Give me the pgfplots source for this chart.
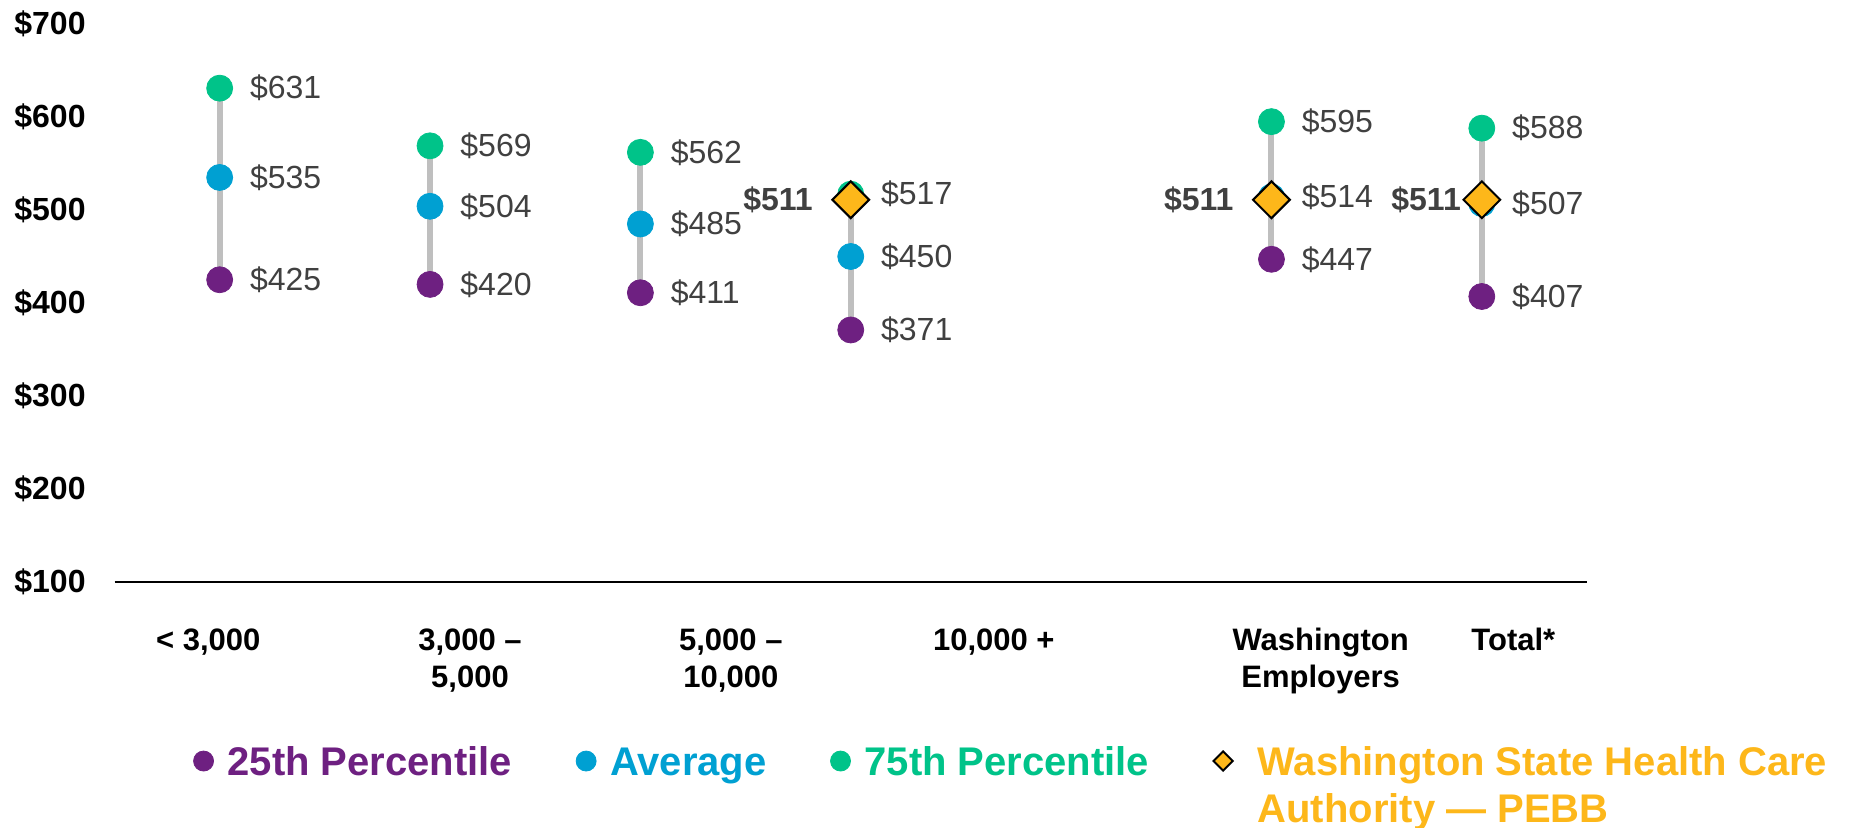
\documentclass[border=0pt]{standalone}
\usepackage{pgfplots}
\pgfplotsset{compat=1.18}
\usepackage{pgfplotstable}
\usepackage{fontspec}
\setmainfont{Liberation Sans}
\definecolor{cPurple}{HTML}{6E2081}
\definecolor{cBlue}{HTML}{00A0D2}
\definecolor{cGreen}{HTML}{00C389}
\definecolor{cYellow}{HTML}{FDB71A}
\definecolor{cGray}{HTML}{BFBFBF}
\definecolor{cText}{HTML}{404040}

\pgfplotstableread{
x p25 avg p75
0 425 535 631
1 420 504 569
2 411 485 562
3 371 450 517
5 447 514 595
6 407 507 588
}\datatable

\pgfplotstableread{
x pebb
3 511
5 511
}\pebbA
\pgfplotstableread{
x pebb
6 511
}\pebbB

\pgfplotsset{diamondlegend/.style={legend image code/.code={\draw[##1, mark size=3.4pt] plot coordinates {(0pt,7pt)}; \path (-4.8pt,7pt) (10pt,7pt);}}}

\begin{document}
\begin{tikzpicture}
\useasboundingbox (-57.25pt,-123pt) rectangle (870.25pt,291pt);
\begin{axis}[
  at={(0pt,0pt)}, anchor=south west,
  scale only axis, width=736.25pt, height=279pt,
  xmin=-0.5, xmax=6.5, ymin=100, ymax=700,
  axis x line*=bottom, axis y line*=left,
  x axis line style={-, line width=1pt, black},
  y axis line style={draw=none},
  major tick length=0pt,
  clip=false,
  /pgf/number format/assume math mode=true,
  ytick={100,200,...,700},
  yticklabels={\$100,\$200,\$300,\$400,\$500,\$600,\$700},
  yticklabel style={anchor=east, inner sep=0pt, xshift=-14.25pt, font=\fontsize{16}{19}\selectfont\bfseries},
  xtick={-0.054,1.19,2.43,3.68,5.234,6.15},
  xticklabels={{< 3,000},{3,000 –\\5,000},{5,000 –\\10,000},{10,000 +},{Washington\\Employers},{Total*}},
  xticklabel style={anchor=north, inner sep=0pt, yshift=-23pt, align=center, font=\fontsize{15.5}{18.5}\selectfont\bfseries},
  legend columns=4,
  legend style={at={(axis description cs:0.0537,-0.294)}, anchor=north west, draw=none, fill=none,
    inner sep=0pt, outer sep=0pt,
    nodes={inner sep=0pt, anchor=base west},
    font=\fontsize{20}{23.5}\selectfont\bfseries,
    /tikz/every odd column/.append style={column sep=7pt},
    /tikz/every even column/.append style={column sep=32pt}},
  legend image code/.code={\draw[#1, mark size=5pt] plot coordinates {(0pt,7pt)};},
]
% connecting lines
\addplot[cGray, line width=3pt, forget plot] coordinates {(0,425) (0,631)};
\addplot[cGray, line width=3pt, forget plot] coordinates {(1,420) (1,569)};
\addplot[cGray, line width=3pt, forget plot] coordinates {(2,411) (2,562)};
\addplot[cGray, line width=3pt, forget plot] coordinates {(3,371) (3,517)};
\addplot[cGray, line width=3pt, forget plot] coordinates {(5,447) (5,595)};
\addplot[cGray, line width=3pt, forget plot] coordinates {(6,407) (6,588)};
% 25th
\addplot[only marks, mark=*, mark size=6.5pt, color=cPurple, point meta=y,
  nodes near coords={\$\pgfmathprintnumber{\pgfplotspointmeta}},
  every node near coord/.append style={anchor=west, xshift=15pt, inner sep=0pt, text=cText, font=\fontsize{16}{19}\selectfont}]
  table[x=x, y=p25] {\datatable};
\addlegendentry[text=cPurple]{25th Percentile}
% average
\addplot[only marks, mark=*, mark size=6.5pt, color=cBlue, point meta=y,
  nodes near coords={\$\pgfmathprintnumber{\pgfplotspointmeta}},
  every node near coord/.append style={anchor=west, xshift=15pt, inner sep=0pt, text=cText, font=\fontsize{16}{19}\selectfont}]
  table[x=x, y=avg] {\datatable};
\addlegendentry[text=cBlue]{Average}
% 75th
\addplot[only marks, mark=*, mark size=6.5pt, color=cGreen, point meta=y,
  nodes near coords={\$\pgfmathprintnumber{\pgfplotspointmeta}},
  every node near coord/.append style={anchor=west, xshift=15pt, inner sep=0pt, text=cText, font=\fontsize{16}{19}\selectfont}]
  table[x=x, y=p75] {\datatable};
\addlegendentry[text=cGreen]{75th Percentile}
% PEBB
\addplot[only marks, mark=square*, mark size=6.5pt, mark options={rotate=45, fill=cYellow, draw=black, line width=1pt},
  point meta=y, diamondlegend,
  nodes near coords={\$\pgfmathprintnumber{\pgfplotspointmeta}},
  every node near coord/.append style={anchor=east, xshift=-18.5pt, inner sep=0pt, text=cText, font=\fontsize{16}{19}\selectfont\bfseries}]
  table[x=x, y=pebb] {\pebbA};
\addlegendentry[text=cYellow]{\vtop{\hbox{Washington State Health Care}\hbox{Authority — PEBB}}}
\addplot[only marks, mark=square*, mark size=6.5pt, mark options={rotate=45, fill=cYellow, draw=black, line width=1pt},
  point meta=y, forget plot,
  nodes near coords={\$\pgfmathprintnumber{\pgfplotspointmeta}},
  every node near coord/.append style={anchor=east, xshift=-10pt, inner sep=0pt, text=cText, font=\fontsize{16}{19}\selectfont\bfseries}]
  table[x=x, y=pebb] {\pebbB};
\end{axis}
\end{tikzpicture}
\end{document}
